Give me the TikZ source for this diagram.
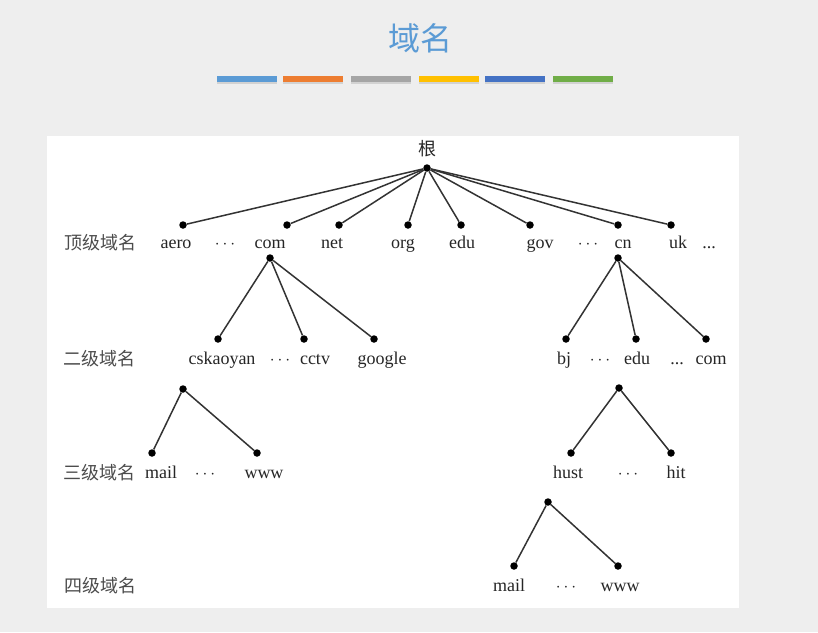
\documentclass[tikz,border=0pt]{standalone}
\usepackage{fontspec}
\setmainfont{Liberation Serif}
\newfontfamily\cjk{Noto Sans CJK SC}
\usepackage{tikz}
\usetikzlibrary{positioning,shadows}

\definecolor{pageGray}{RGB}{238,238,238}
\definecolor{titleBlue}{RGB}{91,155,213}
\definecolor{barBlue}{RGB}{91,155,213}
\definecolor{barOrange}{RGB}{237,125,49}
\definecolor{barGray}{RGB}{165,165,165}
\definecolor{barGold}{RGB}{255,192,0}
\definecolor{barNavy}{RGB}{68,114,196}
\definecolor{barGreen}{RGB}{112,173,71}

\begin{document}
\begin{tikzpicture}[x=1pt, y=-1pt,
    dot/.style={circle, fill=black, inner sep=0pt, minimum size=7.5pt},
    lbl/.style={anchor=base, inner sep=0pt, text=black!85, font=\fontsize{18}{20}\selectfont},
    lvl/.style={anchor=base, inner sep=0pt, text=black!70, font=\cjk\fontsize{18}{20}\selectfont},
    bar/.style={rectangle, inner sep=0pt, minimum width=60pt, minimum height=6pt, drop shadow={opacity=0.25, shadow xshift=0pt, shadow yshift=-2pt}},
    edge/.style={draw=black!80, line width=1.5pt}
]

    % Page and white panel
    \useasboundingbox (0,0) rectangle (818,632);
    \fill [pageGray] (0,0) rectangle (818,632);
    \fill [white] (47,136) rectangle (739,608);

    % Title and colour bars
    \node (title) at (420,38) [text=titleBlue, font=\cjk\fontsize{32}{34}\selectfont] {域名};
    \node (b1) at (247,79) [bar, fill=barBlue] {};
    \node (b2) at (313,79) [bar, fill=barOrange] {};
    \node (b3) at (381,79) [bar, fill=barGray] {};
    \node (b4) at (449,79) [bar, fill=barGold] {};
    \node (b5) at (515,79) [bar, fill=barNavy] {};
    \node (b6) at (583,79) [bar, fill=barGreen] {};

    % Root
    \node (rootT) at (427,155) [lvl, text=black!85] {根};
    \node (root) at (427,168) [dot] {};

    % Top level domains
    \node (lvlA) at (100,249) [lvl] {顶级域名};
    \node (aero) at (183,225) [dot] {};
    \node (com) at (287,225) [dot] {};
    \node (net) at (339,225) [dot] {};
    \node (org) at (408,225) [dot] {};
    \node (edu) at (461,225) [dot] {};
    \node (gov) at (530,225) [dot] {};
    \node (cn) at (618,225) [dot] {};
    \node (uk) at (671,225) [dot] {};
    \node (aeroT) at (176,248) [lbl] {aero};
    \node (dotsA) at (225,248) [lbl] {$\cdots$};
    \node (comT) at (270,248) [lbl] {com};
    \node (netT) at (332,248) [lbl] {net};
    \node (orgT) at (403,248) [lbl] {org};
    \node (eduT) at (462,248) [lbl] {edu};
    \node (govT) at (540,248) [lbl] {gov};
    \node (dotsB) at (588,248) [lbl] {$\cdots$};
    \node (cnT) at (623,248) [lbl] {cn};
    \node (ukT) at (678,248) [lbl] {uk};
    \node (dotsC) at (709,248) [lbl] {...};

    \foreach \n in {aero,com,net,org,edu,gov,cn,uk}
        \draw [edge] (root) -- (\n);

    % Second level domains
    \node (lvlB) at (99,365) [lvl] {二级域名};
    \node (comSub) at (270,258) [dot] {};
    \node (csky) at (218,339) [dot] {};
    \node (cctv) at (304,339) [dot] {};
    \node (goog) at (374,339) [dot] {};
    \node (cskyT) at (222,364) [lbl] {cskaoyan};
    \node (dotsD) at (280,364) [lbl] {$\cdots$};
    \node (cctvT) at (315,364) [lbl] {cctv};
    \node (googT) at (382,364) [lbl] {google};

    \node (cnSub) at (618,258) [dot] {};
    \node (bj) at (566,339) [dot] {};
    \node (cnEdu) at (636,339) [dot] {};
    \node (cnCom) at (706,339) [dot] {};
    \node (bjT) at (564,364) [lbl] {bj};
    \node (dotsE) at (600,364) [lbl] {$\cdots$};
    \node (cnEduT) at (637,364) [lbl] {edu};
    \node (dotsF) at (677,364) [lbl] {...};
    \node (cnComT) at (711,364) [lbl] {com};

    \draw [edge] (comSub) -- (csky);
    \draw [edge] (comSub) -- (cctv);
    \draw [edge] (comSub) -- (goog);
    \draw [edge] (cnSub) -- (bj);
    \draw [edge] (cnSub) -- (cnEdu);
    \draw [edge] (cnSub) -- (cnCom);

    % Third level domains
    \node (lvlC) at (99,479) [lvl] {三级域名};
    \node (cskySub) at (183,389) [dot] {};
    \node (mailA) at (152,453) [dot] {};
    \node (wwwA) at (257,453) [dot] {};
    \node (mailAT) at (161,478) [lbl] {mail};
    \node (dotsG) at (205,478) [lbl] {$\cdots$};
    \node (wwwAT) at (264,478) [lbl] {www};

    \node (eduSub) at (619,388) [dot] {};
    \node (hust) at (571,453) [dot] {};
    \node (hit) at (671,453) [dot] {};
    \node (hustT) at (568,478) [lbl] {hust};
    \node (dotsH) at (628,478) [lbl] {$\cdots$};
    \node (hitT) at (676,478) [lbl] {hit};

    \draw [edge] (cskySub) -- (mailA);
    \draw [edge] (cskySub) -- (wwwA);
    \draw [edge] (eduSub) -- (hust);
    \draw [edge] (eduSub) -- (hit);

    % Fourth level domains
    \node (lvlD) at (100,592) [lvl] {四级域名};
    \node (hustSub) at (548,502) [dot] {};
    \node (mailB) at (514,566) [dot] {};
    \node (wwwB) at (618,566) [dot] {};
    \node (mailBT) at (509,591) [lbl] {mail};
    \node (dotsI) at (566,591) [lbl] {$\cdots$};
    \node (wwwBT) at (620,591) [lbl] {www};

    \draw [edge] (hustSub) -- (mailB);
    \draw [edge] (hustSub) -- (wwwB);

\end{tikzpicture}
\end{document}
